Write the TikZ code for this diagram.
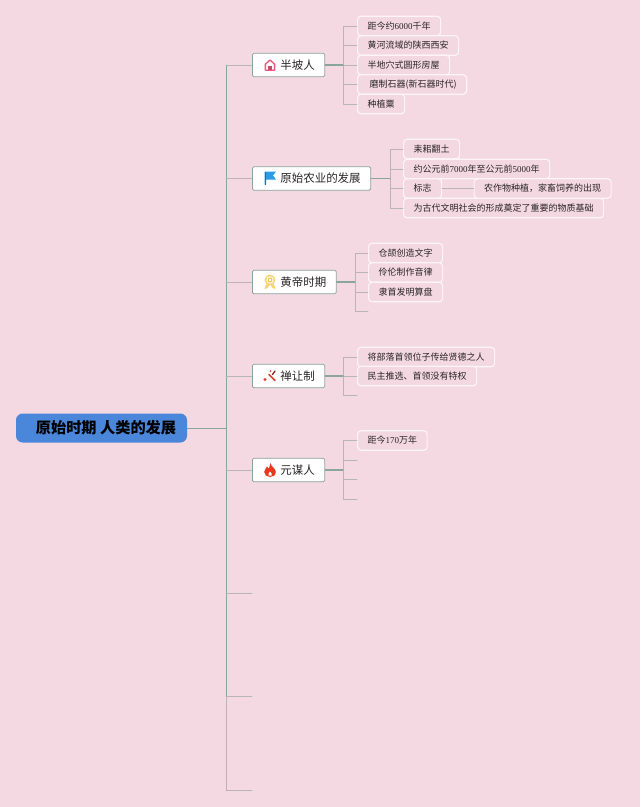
\documentclass[tikz,border=0pt]{standalone}
\usepackage{fontspec}
\setmainfont{Noto Sans CJK SC}
\newfontfamily\numfont{Liberation Serif}
\usetikzlibrary{calc}
\definecolor{paper}{HTML}{F4D9E2}
\definecolor{leaffill}{HTML}{F3D8E1}
\definecolor{leafedge}{HTML}{FDF4F7}
\definecolor{rootblue}{HTML}{4A86DA}
\definecolor{sage}{HTML}{8AA59B}
\definecolor{stub}{HTML}{B9B5B6}
\definecolor{inkc}{HTML}{2A2528}
\definecolor{housepink}{HTML}{E8587A}
\definecolor{flagblue}{HTML}{2B9BE8}
\definecolor{medalgold}{HTML}{F8D468}
\definecolor{toolred}{HTML}{D8402F}
\definecolor{flamered}{HTML}{E8391F}
\tikzset{
  el/.style={line cap=round, line join=round},
  link/.style={sage, line width=0.65pt},
  stubline/.style={stub, line width=0.65pt},
  rootbox/.style={fill=rootblue, rounded corners=5pt, minimum width=128.25pt, minimum height=21.75pt, inner sep=0pt, font=\bfseries\fontsize{11.4}{13}\selectfont, text=black},
  branch/.style={draw=sage, fill=white, rounded corners=1pt, line width=0.6pt, anchor=west, minimum height=17.5pt, inner xsep=7.5pt, inner ysep=0pt, font=\fontsize{8.6}{10}\selectfont, text=inkc},
  leaf/.style={draw=leafedge, fill=leaffill, rounded corners=2.5pt, line width=0.9pt, anchor=west, minimum height=14.5pt, inner xsep=7.5pt, inner ysep=0pt, font=\fontsize{6.75}{8}\selectfont, text=inkc}
}

\begin{document}
\begin{tikzpicture}[x=0.75pt, y=-0.75pt, el]
  \fill[paper] (0,0) rectangle (640,807);
  \useasboundingbox (0,0) rectangle (640,807);

  % main column
  \coordinate (trunktop) at (226,65);
  \coordinate (trunkroot) at (226,428);
  \coordinate (trunkend) at (226,790);
  \draw[link] (trunktop) -- (226,696);
  \draw[stubline] (226,696) -- (trunkend);

  \node[rootbox] (root) at (101.5,428) {\hspace{6.75pt}原始时期 人类的发展};
  \node[branch] (banpo) at (252,65) {\hspace{13.5pt}半坡人};
  \node[branch] (nongye) at (252,178.5) {\hspace{13.5pt}原始农业的发展};
  \node[branch] (huangdi) at (252,282) {\hspace{13.5pt}黄帝时期};
  \node[branch] (shanrang) at (252,376) {\hspace{13.5pt}禅让制};
  \node[branch] (yuanmou) at (252,470) {\hspace{13.5pt}元谋人};

  \draw[link] (root) -- (trunkroot);
  \foreach \b in {banpo,nongye,huangdi,shanrang,yuanmou}{
     \draw[stubline] (\b.west -| trunkroot) -- (\b.west);}
  \foreach \y [count=\i] in {593,696,790}{
     \coordinate (free\i) at (252,\y);
     \draw[stubline] (free\i -| trunkroot) -- (free\i);}

  % spines
  \coordinate (banpospine) at (343,65);
  \coordinate (nongyespine) at (390,178.5);
  \coordinate (huangdispine) at (355,282);
  \coordinate (shanrangspine) at (343,376);
  \coordinate (yuanmouspine) at (343,470);

  % leaves
  \foreach \n/\y/\t in {a/26/{距今约{\numfont 6000}千年},b/45.5/黄河流域的陕西西安,c/65/半地穴式圆形房屋,d/84.5/{\hspace{1.5pt}磨制石器(新石器时代)\hspace{3pt}},e/104/种植粟}{
     \node[leaf] (banpo\n) at (357,\y) {\t};
     \draw[stubline] (banpospine) |- (banpo\n.west);}
  \foreach \n/\y/\t in {a/149/耒耜翻土,b/169/{约公元前{\numfont 7000}年至公元前{\numfont 5000}年},c/188.5/标志,d/208/为古代文明社会的形成奠定了重要的物质基础}{
     \node[leaf] (nongye\n) at (403,\y) {\t};
     \draw[stubline] (nongyespine) |- (nongye\n.west);}
  \node[leaf] (biaozhi) at (473.5,188.5) {农作物种植，家畜饲养的出现};
  \draw[stubline, line width=0.9pt] (nongyec) -- (biaozhi);
  \foreach \n/\y/\t in {a/253/仓颉创造文字,b/272.5/伶伦制作音律,c/292/隶首发明算盘}{
     \node[leaf] (huangdi\n) at (368,\y) {\t};
     \draw[stubline] (huangdispine) |- (huangdi\n.west);}
  \foreach \n/\y/\t in {a/357/将部落首领位子传给贤德之人,b/376/民主推选、首领没有特权}{
     \node[leaf] (shanrang\n) at (357,\y) {\t};
     \draw[stubline] (shanrangspine) |- (shanrang\n.west);}
  \node[leaf] (yuanmoua) at (357,440.5) {距今{\numfont 170}万年};
  \draw[stubline] (yuanmouspine) |- (yuanmoua.west);

  % empty ends
  \coordinate (huangdiend) at (368,311);
  \coordinate (shanrangend) at (357,395);
  \draw[stubline] (huangdispine) |- (huangdiend);
  \draw[stubline] (shanrangspine) |- (shanrangend);
  \foreach \y [count=\i] in {460,479,499}{
     \coordinate (yuanmouend\i) at (357,\y);
     \draw[stubline] (yuanmouspine) |- (yuanmouend\i);}

  % stems come last, over the spines
  \foreach \b in {banpo,nongye,huangdi,shanrang,yuanmou}{
     \draw[link, line width=0.9pt] (\b) -- (\b spine);}

  % icons
  \begin{scope}[shift={(270,65)}]
    \draw[housepink, line width=1pt] (-4.6,-0.8) -- (0,-5) -- (4.6,-0.8) -- (4.6,5.2) -- (-4.6,5.2) -- cycle;
    \fill[housepink!85!black] (-1.7,1) rectangle (1.7,5.2);
  \end{scope}
  \begin{scope}[shift={(270,178)}]
    \fill[flagblue] (-5.5,-6.5) -- (6,-6.5) -- (3,-2.5) -- (6,1.5) -- (-3.8,1.5) -- (-3.8,6.5) -- (-5.5,6.5) -- cycle;
    \fill[flagblue!70!black] (-5.5,-6.5) rectangle (-4.5,6.5);
  \end{scope}
  \begin{scope}[shift={(270,282)}]
    \draw[medalgold, line width=1.1pt] (0,-2) circle (4.6);
    \draw[medalgold!80!orange, line width=0.8pt] (0,-2) circle (2);
    \fill[medalgold] (-3.8,2.2) -- (-5.5,7) -- (-2.5,6) -- (-0.5,3) -- cycle (3.8,2.2) -- (5.5,7) -- (2.5,6) -- (0.5,3) -- cycle;
  \end{scope}
  \begin{scope}[shift={(270,376)}]
    \draw[toolred, line width=1.2pt] (-1,-1.5) -- (5,4.5);
    \draw[toolred!60!black, line width=1pt] (2.5,-1.5) -- (5,-5);
    \fill[toolred] (-5,3.5) circle (1.7) (0.5,-5) circle (1);
  \end{scope}
  \begin{scope}[shift={(270,470)}]
    \fill[flamered] (0.5,-7) .. controls (1,-3) and (5.8,-2) .. (5.8,2) .. controls (5.8,5.5) and (2.5,7) .. (0,7) .. controls (-3,7) and (-5.8,5) .. (-5.8,2) .. controls (-5.8,-0.5) and (-3.5,-2) .. (-3,-3.5) .. controls (-2,-2.5) and (-1.5,-2) .. (-1,-1.5) .. controls (-0.5,-3.5) and (0,-5) .. (0.5,-7) -- cycle;
    \fill[white] (0,1.5) .. controls (1.5,3) and (2.2,4) .. (1.5,5.5) -- (-1.5,5.5) .. controls (-2.2,4) and (-1,3) .. (0,1.5) -- cycle;
  \end{scope}
\end{tikzpicture}
\end{document}
